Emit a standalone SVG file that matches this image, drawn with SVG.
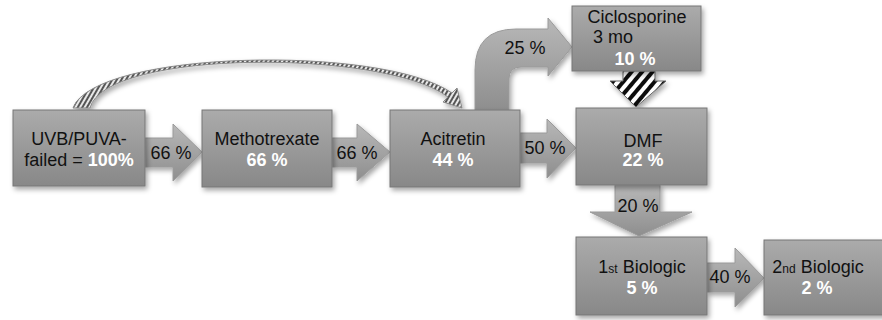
<svg xmlns="http://www.w3.org/2000/svg" width="882" height="320" viewBox="0 0 882 320">
<defs>
<linearGradient id="boxg" x1="0" y1="0" x2="0" y2="1">
<stop offset="0" stop-color="#ababab"/>
<stop offset="1" stop-color="#888888"/>
</linearGradient>
<linearGradient id="arrg" x1="0" y1="0" x2="0" y2="1">
<stop offset="0" stop-color="#b8b8b8"/>
<stop offset="1" stop-color="#8e8e8e"/>
</linearGradient>
<pattern id="hatch" width="8" height="8" patternUnits="userSpaceOnUse" patternTransform="rotate(40)">
<rect width="8" height="8" fill="#ffffff"/>
<rect width="4" height="8" fill="#111111"/>
</pattern>
<pattern id="hatch2" width="4" height="4" patternUnits="userSpaceOnUse" patternTransform="rotate(30)">
<rect width="4" height="4" fill="#e8e8e8"/>
<rect width="2" height="4" fill="#555555"/>
</pattern>
<filter id="sh" x="-10%" y="-10%" width="130%" height="140%">
<feDropShadow dx="2" dy="3" stdDeviation="2.5" flood-color="#000" flood-opacity="0.35"/>
</filter>
</defs>
<style>
.box{fill:url(#boxg);stroke:#777;stroke-width:1;filter:url(#sh)}
.arr{fill:url(#arrg);stroke:#9a9a9a;stroke-width:1;filter:url(#sh)}
.t{font-family:"Liberation Sans",Arial,sans-serif;font-size:18px;fill:#111;text-anchor:middle}
.p{font-family:"Liberation Sans",Arial,sans-serif;font-size:18px;fill:#fff;font-weight:bold;text-anchor:middle}
.s{font-size:12px}
</style>
<g id="connectors">
<path class="arr" d="M145,138 L173,138 L173,124 L202,152 L173,181 L173,167 L145,167 Z"/>
<text class="t" x="171" y="159">66 %</text>
<path class="arr" d="M332,138 L357,138 L357,124 L390,152 L357,181 L357,167 L332,167 Z"/>
<text class="t" x="357" y="159">66 %</text>
<path class="arr" d="M520,133 L547,133 L547,119 L576,148 L547,178 L547,163 L520,163 Z"/>
<text class="t" x="545" y="154">50 %</text>
<path class="arr" d="M475,110 L475,70 Q475,29 516,29 L548,29 L548,18 L572,47 L548,76 L548,67 L521,67 Q509,67 509,79 L509,110 Z"/>
<text class="t" x="525" y="54">25 %</text>
<path class="arr" d="M615,185 L660,185 L660,212 L692,212 L639,236 L590,212 L615,212 Z"/>
<text class="t" x="638" y="212">20 %</text>
<path class="arr" d="M707,263 L735,263 L735,248 L764,278 L735,307 L735,292 L707,292 Z"/>
<text class="t" x="730" y="283">40 %</text>
<path d="M623,71 L655,71 L655,81 L666,81 L636,107 L610,81 L623,81 Z" fill="url(#hatch)" stroke="#666" stroke-width="1" filter="url(#sh)"/>
<path d="M73,108 C95,50 382,44 452,93 L457,88 L462,108 L443,102 L448,97 C385,49 105,49 90,108 Z" fill="url(#hatch2)" stroke="#8a8a8a" stroke-width="1" filter="url(#sh)"/>
</g>
<g id="uvb">
<rect class="box" x="13" y="110" width="132" height="76"/>
<text class="t" x="79" y="145">UVB/PUVA-</text>
<text class="t" x="79" y="166">failed = <tspan font-weight="bold" fill="#fff">100%</tspan></text>
</g>
<g id="methotrexate">
<rect class="box" x="202" y="110" width="130" height="77"/>
<text class="t" x="267" y="145">Methotrexate</text>
<text class="p" x="267" y="166">66 %</text>
</g>
<g id="acitretin">
<rect class="box" x="390" y="110" width="130" height="77"/>
<text class="t" x="453" y="145">Acitretin</text>
<text class="p" x="453" y="166">44 %</text>
</g>
<g id="ciclosporine">
<rect class="box" x="572" y="6" width="129" height="65"/>
<text class="t" x="637" y="23">Ciclosporine</text>
<text class="t" x="593" y="43" style="text-anchor:start">3 mo</text>
<text class="p" x="635" y="65">10 %</text>
</g>
<g id="dmf">
<rect class="box" x="576" y="108" width="131" height="77"/>
<text class="t" x="643" y="147">DMF</text>
<text class="p" x="643" y="166">22 %</text>
</g>
<g id="biologic1">
<rect class="box" x="576" y="237" width="131" height="78"/>
<text class="t" x="642" y="273">1<tspan class="s">st</tspan> Biologic</text>
<text class="p" x="642" y="294">5 %</text>
</g>
<g id="biologic2">
<rect class="box" x="764" y="240" width="122" height="75"/>
<text class="t" x="818" y="273">2<tspan class="s">nd</tspan>  Biologic</text>
<text class="p" x="817" y="294">2 %</text>
</g>
</svg>
